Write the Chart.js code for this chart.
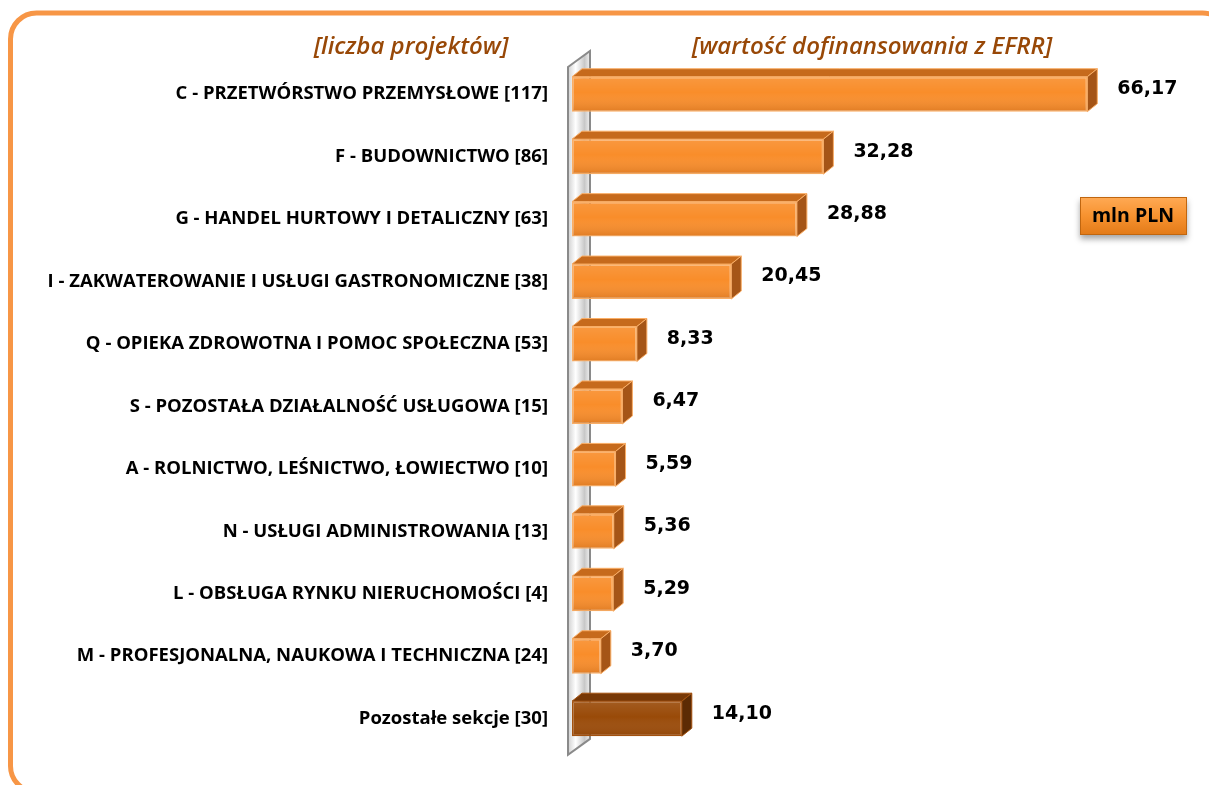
<!DOCTYPE html>
<html lang="pl">
<head>
<meta charset="UTF-8">
<title>Wartość dofinansowania z EFRR wg sekcji PKD</title>
<script src="https://cdn.jsdelivr.net/npm/chart.js"></script>
<style>
    body { margin: 0; background: #ffffff; }
    #chart { display: block; }
</style>
</head>
<body>
<canvas id="chart" width="1209" height="785"></canvas>
<script>
// dane
const sections = [
    'C - PRZETWÓRSTWO PRZEMYSŁOWE',
    'F - BUDOWNICTWO',
    'G - HANDEL HURTOWY I DETALICZNY',
    'I - ZAKWATEROWANIE I USŁUGI GASTRONOMICZNE',
    'Q - OPIEKA ZDROWOTNA I POMOC SPOŁECZNA',
    'S - POZOSTAŁA DZIAŁALNOŚĆ USŁUGOWA',
    'A - ROLNICTWO, LEŚNICTWO, ŁOWIECTWO',
    'N - USŁUGI ADMINISTROWANIA',
    'L - OBSŁUGA RYNKU NIERUCHOMOŚCI',
    'M - PROFESJONALNA, NAUKOWA I TECHNICZNA',
    'Pozostałe sekcje'
];
const projects = [117, 86, 63, 38, 53, 15, 10, 13, 4, 24, 30];
const funding = [66.17, 32.28, 28.88, 20.45, 8.33, 6.47, 5.59, 5.36, 5.29, 3.70, 14.10];
const leftHeader = '[liczba projektów]';
const rightHeader = '[wartość dofinansowania z EFRR]';
const unitLabel = 'mln PLN';

const labels = sections.map((s, i) => s + ' [' + projects[i] + ']');
const isRest = labels.map((l, i) => i === labels.length - 1);

const palette = {
    front: '#F98D2A', top: '#C66A1C', side: '#A55517', border: '#FAAE66',
    restFront: '#994A08', restTop: '#773806', restSide: '#5C2B04', restBorder: '#A4520F'
};

const DX = 10, DY = 8;

const decor = {
    id: 'decor',
    beforeDraw(chart) {
        const ctx = chart.ctx;
        ctx.save();
        ctx.fillStyle = '#ffffff';
        ctx.fillRect(0, 0, chart.width, chart.height);
        // ramka
        ctx.strokeStyle = '#F79646';
        ctx.lineWidth = 5;
        ctx.beginPath();
        ctx.roundRect(10.5, 13, 1218, 779, 26);
        ctx.stroke();
        // naglowki
        ctx.fillStyle = '#984807';
        ctx.font = 'italic 600 24px "Open Sans"';
        ctx.textAlign = 'center';
        ctx.textBaseline = 'middle';
        ctx.fillText(leftHeader, 411, 47);
        ctx.fillText(rightHeader, 872, 47);
        // mln PLN
        ctx.shadowColor = 'rgba(0,0,0,0.35)';
        ctx.shadowBlur = 6;
        ctx.shadowOffsetY = 4;
        const g = ctx.createLinearGradient(0, 197, 0, 235);
        g.addColorStop(0, '#FFAA55');
        g.addColorStop(0.5, '#F7922F');
        g.addColorStop(1, '#E27A18');
        ctx.fillStyle = g;
        ctx.fillRect(1080, 197, 107, 38);
        ctx.shadowColor = 'transparent';
        ctx.strokeStyle = '#C0660F';
        ctx.lineWidth = 1;
        ctx.strokeRect(1080.5, 197.5, 106, 37);
        ctx.fillStyle = '#000';
        ctx.font = 'bold 19.5px "Open Sans"';
        ctx.fillText(unitLabel, 1133, 216);
        ctx.restore();
    },
    beforeDatasetsDraw(chart) {
        const ctx = chart.ctx;
        const area = chart.chartArea;
        const x0 = chart.scales.x.getPixelForValue(0) - 4;
        const top = area.top + 4, bottom = area.bottom + 5;
        ctx.save();
        const g = ctx.createLinearGradient(x0, 0, x0 + 22, 0);
        g.addColorStop(0, '#d0d0d0');
        g.addColorStop(0.35, '#ffffff');
        g.addColorStop(0.75, '#c8c8c8');
        g.addColorStop(1, '#f0f0f0');
        ctx.fillStyle = g;
        ctx.beginPath();
        ctx.moveTo(x0, top);
        ctx.lineTo(x0 + 22, top - 16);
        ctx.lineTo(x0 + 22, bottom - 16);
        ctx.lineTo(x0, bottom);
        ctx.closePath();
        ctx.fill();
        ctx.strokeStyle = '#8a8a8a';
        ctx.lineWidth = 2;
        ctx.stroke();
        ctx.restore();
    },
    afterDatasetsDraw(chart) {
        const ctx = chart.ctx;
        const meta = chart.getDatasetMeta(0);
        ctx.save();
        meta.data.forEach((bar, i) => {
            const p = bar.getProps(['x', 'y', 'base', 'height'], true);
            const xL = p.base, xR = p.x;
            const yT = p.y - p.height / 2, yB = p.y + p.height / 2;
            const rest = isRest[i];
            // polysk na przedniej scianie
            const g = ctx.createLinearGradient(0, yT, 0, yB);
            g.addColorStop(0, 'rgba(255,255,255,0.10)');
            g.addColorStop(0.45, 'rgba(255,255,255,0)');
            g.addColorStop(1, 'rgba(120,50,0,0.2)');
            ctx.fillStyle = g;
            ctx.fillRect(xL + 1, yT + 1, xR - xL - 2, yB - yT - 2);
            ctx.lineWidth = 1;
            ctx.strokeStyle = rest ? palette.restBorder : palette.border;
            // gorna sciana
            ctx.fillStyle = rest ? palette.restTop : palette.top;
            ctx.beginPath();
            ctx.moveTo(xL, yT);
            ctx.lineTo(xL + DX, yT - DY);
            ctx.lineTo(xR + DX, yT - DY);
            ctx.lineTo(xR, yT);
            ctx.closePath();
            ctx.fill();
            ctx.stroke();
            // boczna sciana
            ctx.fillStyle = rest ? palette.restSide : palette.side;
            ctx.beginPath();
            ctx.moveTo(xR, yT);
            ctx.lineTo(xR + DX, yT - DY);
            ctx.lineTo(xR + DX, yB - DY);
            ctx.lineTo(xR, yB);
            ctx.closePath();
            ctx.fill();
            ctx.stroke();
            // etykieta wartosci
            ctx.fillStyle = '#000';
            ctx.font = 'bold 19px "DejaVu Sans"';
            ctx.textAlign = 'left';
            ctx.textBaseline = 'middle';
            ctx.fillText(funding[i].toFixed(2).replace('.', ','), xR + 30, p.y - 5);
        });
        ctx.restore();
    }
};

new Chart(document.getElementById('chart'), {
    type: 'bar',
    data: {
        labels: labels,
        datasets: [{
            data: funding,
            backgroundColor: isRest.map(r => r ? palette.restFront : palette.front),
            borderColor: isRest.map(r => r ? palette.restBorder : palette.border),
            borderWidth: 1.5,
            borderSkipped: false,
            barPercentage: 0.56,
            categoryPercentage: 1
        }]
    },
    options: {
        indexAxis: 'y',
        responsive: false,
        animation: false,
        layout: { padding: { left: 0, right: 14, top: 63, bottom: 32 } },
        plugins: {
            legend: { display: false },
            tooltip: { enabled: false }
        },
        scales: {
            x: {
                display: false,
                min: 0,
                max: 80
            },
            y: {
                afterFit(scale) { scale.width = 572; },
                grid: { display: false, drawTicks: false },
                border: { display: false },
                ticks: {
                    autoSkip: false,
                    padding: 24,
                    color: '#000',
                    font: { family: 'Open Sans', weight: 'bold', size: 18.5 }
                }
            }
        }
    },
    plugins: [decor]
});
</script>
</body>
</html>
